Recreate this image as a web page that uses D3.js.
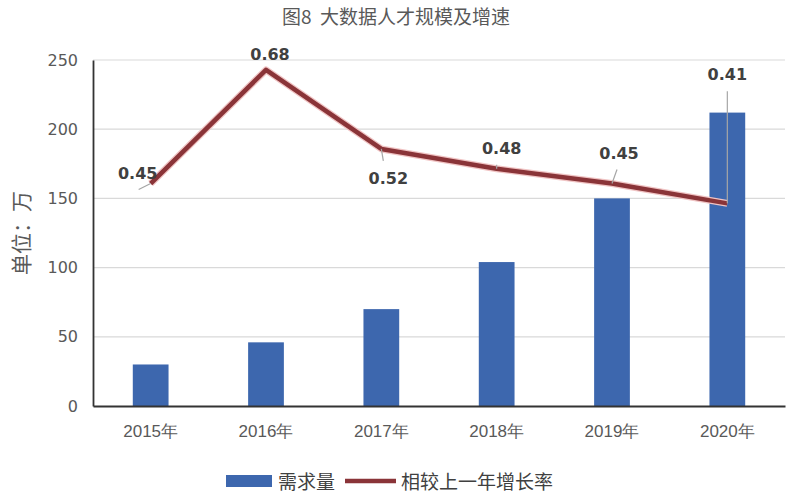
<!DOCTYPE html>
<html>
<head>
<meta charset="utf-8">
<script src="https://cdn.jsdelivr.net/npm/d3@7"></script>
<style>
  body { margin: 0; background: #fff; }
  svg { display: block; font-family: "Noto Sans CJK SC", "DejaVu Sans", sans-serif; }
</style>
</head>
<body>
<svg id="chart" width="804" height="493"></svg>
<script>
// chart data
var years = ["2015年", "2016年", "2017年", "2018年", "2019年", "2020年"];
var demand = [30, 46, 70, 104, 150, 212];
var growth = [0.45, 0.68, 0.52, 0.48, 0.45, 0.41];
var yTicks = [0, 50, 100, 150, 200, 250];
var title = "图8  大数据人才规模及增速";
var yLabel = "单位：万";
var legendNames = ["需求量", "相较上一年增长率"];

// label placement for the growth labels (dx, dy of text centre, leader line end)
var labelPos = [
  { dx: -13, dy: -10, lx: -12, ly: 6 },
  { dx: 4, dy: -15, lx: 0, ly: 0 },
  { dx: 7, dy: 30, lx: 2, ly: 12 },
  { dx: 5, dy: -20, lx: 0, ly: -4 },
  { dx: 7, dy: -30, lx: 5, ly: -14 },
  { dx: 0, dy: -129, lx: 0, ly: -112 }
];

var svg = d3.select("#chart");
var plotLeft = 93, plotRight = 785, plotTop = 60, plotBottom = 406;

var x = d3.scaleBand()
  .domain(years)
  .range([plotLeft, plotRight])
  .paddingInner(0.69)
  .paddingOuter(0.345);

var y = d3.scaleLinear().domain([0, 250]).range([plotBottom, plotTop]);
// hidden secondary axis for the growth line
var y2 = d3.scaleLinear().domain([0, 0.7]).range([plotBottom, plotTop]);

// title
svg.append("text")
  .attr("x", 396).attr("y", 24)
  .attr("text-anchor", "middle")
  .attr("font-size", 19)
  .attr("fill", "#595959")
  .attr("xml:space", "preserve")
  .style("white-space", "pre")
  .text(title);

// gridlines
svg.append("g")
  .selectAll("line")
  .data(yTicks.filter(d => d > 0))
  .enter().append("line")
  .attr("x1", plotLeft).attr("x2", plotRight)
  .attr("y1", d => y(d)).attr("y2", d => y(d))
  .attr("stroke", "#d9d9d9")
  .attr("stroke-width", 1.2);

// y axis
var yAxis = svg.append("g")
  .attr("transform", "translate(" + plotLeft + ",0)")
  .call(d3.axisLeft(y).tickValues(yTicks).tickSize(0).tickPadding(15));
yAxis.select(".domain").attr("stroke", "#333").attr("stroke-width", 1.8);
yAxis.selectAll("text")
  .attr("font-size", 16)
  .attr("fill", "#595959")
  .attr("font-family", "\"DejaVu Sans\", sans-serif");

// y axis title
svg.append("text")
  .attr("transform", "translate(29,233) rotate(-90)")
  .attr("text-anchor", "middle")
  .attr("font-size", 21)
  .attr("fill", "#595959")
  .text(yLabel);

// bars
svg.append("g")
  .selectAll("rect")
  .data(demand)
  .enter().append("rect")
  .attr("x", (d, i) => x(years[i]))
  .attr("y", d => y(d))
  .attr("width", x.bandwidth())
  .attr("height", d => plotBottom - y(d))
  .attr("fill", "#3d67ae");

// x axis
var xAxis = svg.append("g")
  .attr("transform", "translate(0," + plotBottom + ")")
  .call(d3.axisBottom(x).tickSize(0).tickPadding(19));
xAxis.select(".domain").attr("stroke", "#333").attr("stroke-width", 1.8);
xAxis.selectAll("text")
  .attr("font-size", 17)
  .attr("fill", "#595959");

// growth line
var cx = (d, i) => x(years[i]) + x.bandwidth() / 2;
var line = d3.line()
  .x(cx)
  .y(d => y2(d));

svg.append("path")
  .datum(growth)
  .attr("fill", "none")
  .attr("stroke", "#f0c4c4")
  .attr("stroke-width", 7)
  .attr("stroke-linejoin", "round")
  .attr("d", line);
svg.append("path")
  .datum(growth)
  .attr("fill", "none")
  .attr("stroke", "#8a3438")
  .attr("stroke-width", 4.5)
  .attr("stroke-linejoin", "round")
  .attr("d", line);

// leader lines + labels
var lbl = svg.append("g");
growth.forEach(function (d, i) {
  var px = cx(d, i), py = y2(d), p = labelPos[i];
  if (p.lx !== 0 || p.ly !== 0) {
    lbl.append("line")
      .attr("x1", px).attr("y1", py)
      .attr("x2", px + p.lx).attr("y2", py + p.ly)
      .attr("stroke", "#a6a6a6")
      .attr("stroke-width", 1.2);
  }
  lbl.append("text")
    .attr("x", px + p.dx).attr("y", py + p.dy)
    .attr("text-anchor", "middle")
    .attr("dominant-baseline", "central")
    .attr("font-size", 16)
    .attr("font-weight", "bold")
    .attr("fill", "#404040")
    .attr("font-family", "\"DejaVu Sans\", sans-serif")
    .text(d.toFixed(2));
});

// legend
var lg = svg.append("g");
lg.append("rect")
  .attr("x", 226).attr("y", 475)
  .attr("width", 46).attr("height", 12)
  .attr("fill", "#3d67ae");
lg.append("text")
  .attr("x", 278).attr("y", 480)
  .attr("dominant-baseline", "central")
  .attr("font-size", 19)
  .attr("fill", "#404040")
  .text(legendNames[0]);
lg.append("line")
  .attr("x1", 345).attr("x2", 396)
  .attr("y1", 481).attr("y2", 481)
  .attr("stroke", "#8a3438")
  .attr("stroke-width", 4.5);
lg.append("text")
  .attr("x", 401).attr("y", 480)
  .attr("dominant-baseline", "central")
  .attr("font-size", 19)
  .attr("fill", "#404040")
  .text(legendNames[1]);
</script>
</body>
</html>
